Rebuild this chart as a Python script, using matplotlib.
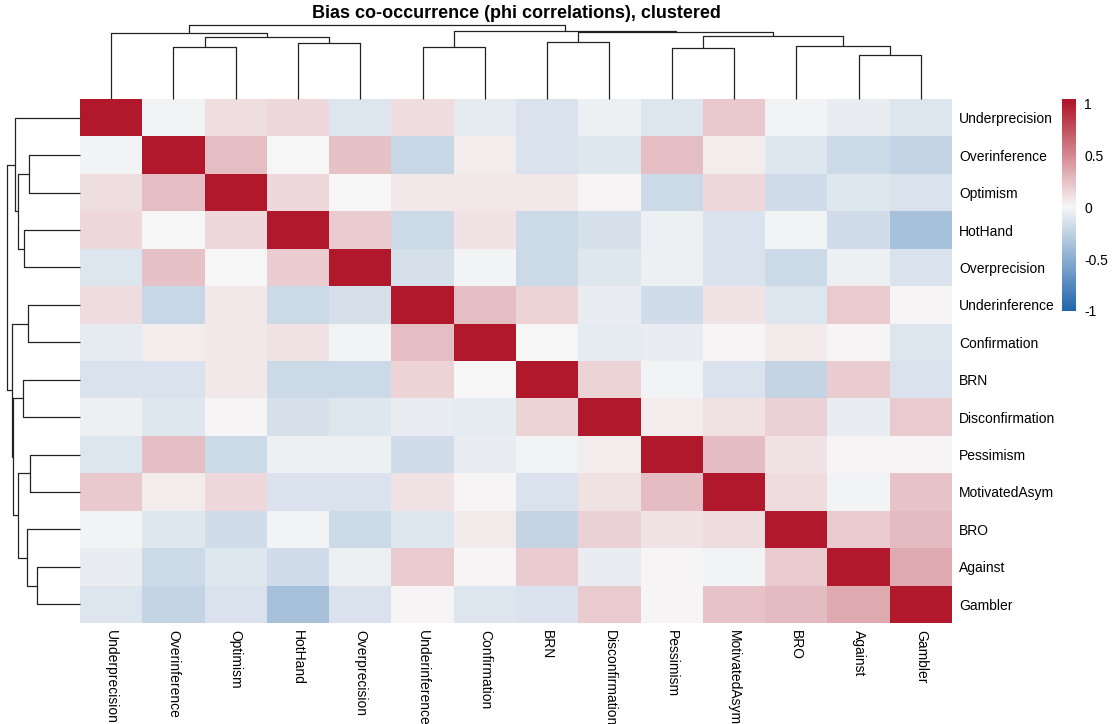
import numpy as np
import matplotlib
matplotlib.use("Agg")
import matplotlib.pyplot as plt
from matplotlib.colors import LinearSegmentedColormap

plt.rcParams["font.family"] = ["Liberation Sans", "DejaVu Sans"]

# Biases, in clustered order
biases = ["Underprecision", "Overinference", "Optimism", "HotHand", "Overprecision",
          "Underinference", "Confirmation", "BRN", "Disconfirmation", "Pessimism",
          "MotivatedAsym", "BRO", "Against", "Gambler"]

# Phi correlation matrix (rows/cols in the order above)
phi = [
    [1.00, -0.03, 0.11, 0.14, -0.12, 0.12, -0.08, -0.14, -0.05, -0.12, 0.21, -0.03, -0.07, -0.12],
    [-0.03, 1.00, 0.25, 0.00, 0.24, -0.22, 0.05, -0.14, -0.11, 0.25, 0.05, -0.11, -0.20, -0.24],
    [0.11, 0.25, 1.00, 0.14, 0.00, 0.07, 0.07, 0.07, 0.01, -0.20, 0.14, -0.18, -0.11, -0.14],
    [0.14, 0.00, 0.14, 1.00, 0.19, -0.20, 0.09, -0.20, -0.15, -0.05, -0.14, -0.03, -0.18, -0.37],
    [-0.12, 0.24, 0.00, 0.19, 1.00, -0.16, -0.03, -0.20, -0.11, -0.05, -0.14, -0.20, -0.05, -0.14],
    [0.12, -0.22, 0.07, -0.20, -0.16, 1.00, 0.25, 0.16, -0.07, -0.18, 0.09, -0.12, 0.20, 0.01],
    [-0.08, 0.05, 0.07, 0.09, -0.03, 0.25, 1.00, 0.00, -0.08, -0.07, 0.01, 0.06, 0.01, -0.12],
    [-0.14, -0.14, 0.07, -0.20, -0.20, 0.16, 0.00, 1.00, 0.16, -0.03, -0.14, -0.24, 0.19, -0.14],
    [-0.05, -0.11, 0.01, -0.15, -0.11, -0.07, -0.08, 0.16, 1.00, 0.05, 0.10, 0.17, -0.07, 0.20],
    [-0.12, 0.25, -0.20, -0.05, -0.05, -0.18, -0.07, -0.03, 0.05, 1.00, 0.26, 0.09, 0.01, 0.01],
    [0.21, 0.05, 0.14, -0.14, -0.14, 0.09, 0.01, -0.14, 0.10, 0.26, 1.00, 0.12, -0.03, 0.23],
    [-0.03, -0.11, -0.18, -0.03, -0.20, -0.12, 0.06, -0.24, 0.17, 0.09, 0.12, 1.00, 0.19, 0.27],
    [-0.07, -0.20, -0.11, -0.18, -0.05, 0.20, 0.01, 0.19, -0.07, 0.01, -0.03, 0.19, 1.00, 0.35],
    [-0.12, -0.24, -0.14, -0.37, -0.14, 0.01, -0.12, -0.14, 0.20, 0.01, 0.23, 0.27, 0.35, 1.00],
]

# Hierarchical merges (left, right, relative height); ids >= 14 are earlier merges
merge_left = [12, 9, 1, 5, 11, 3, 7, 16, 15, 0, 20, 17, 23]
merge_right = [13, 10, 2, 6, 14, 4, 8, 19, 18, 21, 22, 24, 25]
merge_height = [0.593, 0.688, 0.701, 0.703, 0.720, 0.765, 0.775, 0.840, 0.850, 0.890, 0.910, 0.927, 1.000]

legend_ticks = [1, 0.5, 0, -0.5, -1]
legend_labels = ["1", "0.5", "0", "-0.5", "-1"]

W, H = 1113, 724
fig = plt.figure(figsize=(W / 100, H / 100), dpi=100)


def box(x0, y0, x1, y1):
    """Pixel box (top-left origin) -> figure fraction rect."""
    return [x0 / W, 1 - y1 / H, (x1 - x0) / W, (y1 - y0) / H]


cmap = LinearSegmentedColormap.from_list("rdbu3", ["#2166AC", "#F7F7F7", "#B2182B"], N=256)
mat = np.array(phi)
n = len(biases)

# Heatmap
hx0, hy0, hx1, hy1 = 80, 99, 952, 623
ax = fig.add_axes(box(hx0, hy0, hx1, hy1))
ax.pcolormesh(np.arange(n + 1), np.arange(n + 1), mat, cmap=cmap, vmin=-1, vmax=1,
              edgecolors="none", antialiased=False)
ax.set_xlim(0, n)
ax.set_ylim(n, 0)
ax.set_xticks(np.arange(n) + 0.5)
ax.set_xticklabels(biases, rotation=270, fontsize=10)
ax.set_yticks(np.arange(n) + 0.5)
ax.set_yticklabels(biases, fontsize=10)
ax.yaxis.tick_right()
ax.tick_params(length=0, pad=5)
for sp in ax.spines.values():
    sp.set_visible(False)

# Dendrogram geometry
pos = {i: i + 0.5 for i in range(n)}
hgt = {i: 0.0 for i in range(n)}
segments = []
for k, (a, b, h) in enumerate(zip(merge_left, merge_right, merge_height)):
    cid = n + k
    segments.append(((pos[a], hgt[a]), (pos[a], h), (pos[b], h), (pos[b], hgt[b])))
    pos[cid] = (pos[a] + pos[b]) / 2
    hgt[cid] = h

line_kw = dict(color="#222222", lw=0.9, solid_capstyle="butt", clip_on=False)

# Column dendrogram (top)
scale_px = 73.7
top0 = 20
axc = fig.add_axes(box(hx0, top0, hx1, hy0))
for seg in segments:
    xs = [p[0] for p in seg]
    ys = [p[1] for p in seg]
    axc.plot(xs, ys, **line_kw)
axc.set_xlim(0, n)
axc.set_ylim(0, (hy0 - top0) / scale_px)
axc.axis("off")

# Row dendrogram (left)
axr = fig.add_axes(box(0, hy0, hx0, hy1))
for seg in segments:
    ys = [p[0] for p in seg]
    xs = [p[1] for p in seg]
    axr.plot(xs, ys, **line_kw)
axr.set_ylim(n, 0)
axr.set_xlim(hx0 / 73.3, 0)
axr.axis("off")

# Title
fig.text((hx0 + hx1) / 2 / W, 1 - 13 / H, "Bias co-occurrence (phi correlations), clustered",
         ha="center", va="center", fontsize=13, fontweight="bold")

# Colour legend
axl = fig.add_axes(box(1062, 99, 1076, 311))
grad = np.linspace(-1, 1.04, 256).reshape(-1, 1)
axl.imshow(grad, cmap=cmap, vmin=-1, vmax=1, aspect="auto", origin="lower",
           extent=[0, 1, -1, 1.04])
axl.set_xlim(0, 1)
axl.set_ylim(-1, 1.04)
axl.set_xticks([])
axl.yaxis.tick_right()
axl.set_yticks(legend_ticks)
axl.set_yticklabels(legend_labels, fontsize=10)
axl.tick_params(length=0, pad=6)
for sp in axl.spines.values():
    sp.set_visible(False)

fig.savefig("out.png", dpi=100)
